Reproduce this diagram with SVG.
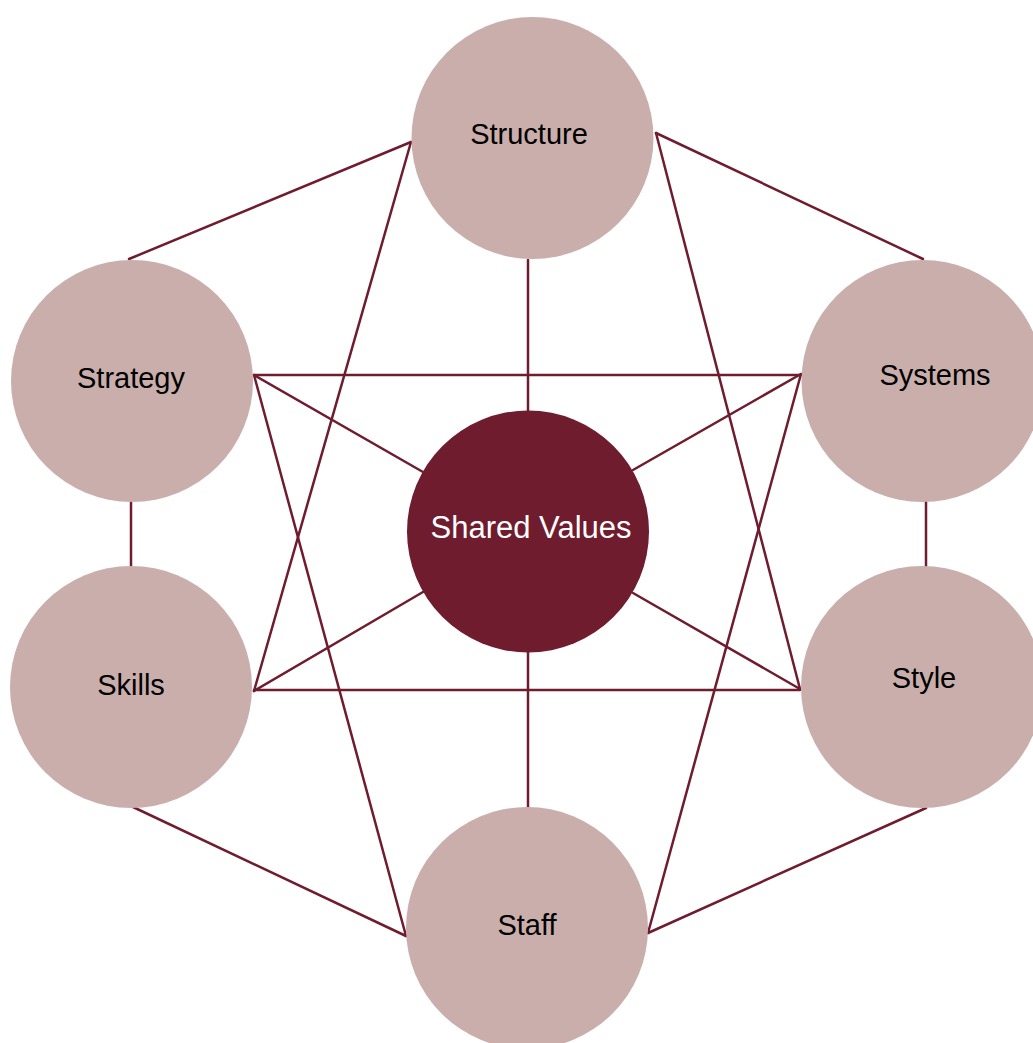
<svg xmlns="http://www.w3.org/2000/svg" width="1033" height="1043" viewBox="0 0 1033 1043">
  <style>
    .link { stroke: #6F1C2E; stroke-width: 2.5; fill: none; stroke-linecap: round; }
    .outer { fill: #CAAEAB; }
    .core { fill: #6F1C2E; }
    .label { font-family: "Liberation Sans", Arial, sans-serif; font-size: 29px; fill: #000; text-anchor: middle; }
    .core-label { font-family: "Liberation Sans", Arial, sans-serif; font-size: 31px; fill: #fff; text-anchor: middle; }
  </style>
  <rect width="1033" height="1043" fill="#fff"/>

  <g id="connectors">
    <!-- outer ring -->
    <line class="link" x1="411" y1="142" x2="129" y2="259"/>
    <line class="link" x1="656" y1="133" x2="923" y2="259"/>
    <line class="link" x1="131" y1="502" x2="131" y2="566"/>
    <line class="link" x1="926" y1="502" x2="926" y2="566"/>
    <line class="link" x1="133" y1="807" x2="406" y2="936"/>
    <line class="link" x1="648" y1="933" x2="926" y2="808"/>
    <!-- spokes to the core -->
    <line class="link" x1="528" y1="260" x2="528" y2="411"/>
    <line class="link" x1="528" y1="652" x2="528" y2="808"/>
    <line class="link" x1="254" y1="375" x2="423" y2="472"/>
    <line class="link" x1="801" y1="374" x2="633" y2="470"/>
    <line class="link" x1="254" y1="691" x2="423" y2="592"/>
    <line class="link" x1="800" y1="689" x2="633" y2="593"/>
    <!-- horizontals -->
    <line class="link" x1="254" y1="375" x2="801" y2="375"/>
    <line class="link" x1="254" y1="690" x2="800" y2="690"/>
    <!-- long diagonals -->
    <line class="link" x1="411" y1="142" x2="254" y2="691"/>
    <line class="link" x1="656" y1="133" x2="800" y2="689"/>
    <line class="link" x1="254" y1="375" x2="406" y2="936"/>
    <line class="link" x1="801" y1="374" x2="648" y2="933"/>
  </g>

  <g id="structure">
    <circle class="outer" cx="532.5" cy="138" r="121"/>
    <text class="label" x="529" y="144">Structure</text>
  </g>
  <g id="strategy">
    <circle class="outer" cx="132" cy="381" r="121"/>
    <text class="label" x="131" y="388">Strategy</text>
  </g>
  <g id="systems">
    <circle class="outer" cx="922.5" cy="381" r="121"/>
    <text class="label" x="935" y="385">Systems</text>
  </g>
  <g id="skills">
    <circle class="outer" cx="131" cy="687" r="121"/>
    <text class="label" x="131" y="695">Skills</text>
  </g>
  <g id="style">
    <circle class="outer" cx="922" cy="687" r="121"/>
    <text class="label" x="924" y="688">Style</text>
  </g>
  <g id="staff">
    <circle class="outer" cx="527" cy="928" r="121"/>
    <text class="label" x="527" y="935">Staff</text>
  </g>
  <g id="shared-values">
    <circle class="core" cx="528" cy="531.5" r="121"/>
    <text class="core-label" x="531" y="538">Shared Values</text>
  </g>
</svg>
